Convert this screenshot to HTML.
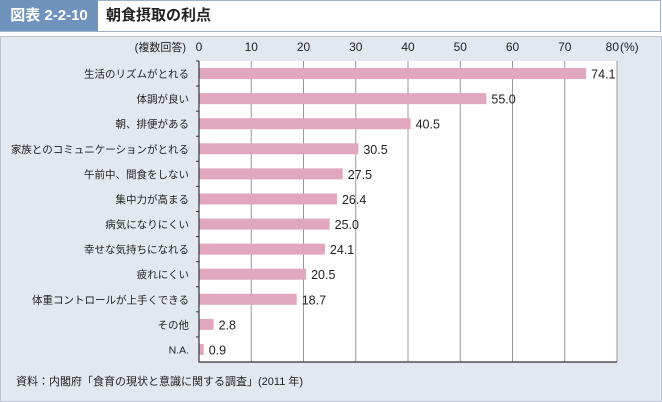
<!DOCTYPE html>
<html><head><meta charset="utf-8"><style>
body{margin:0;width:662px;height:402px;background:#fff;font-family:"Liberation Sans","Noto Sans CJK JP",sans-serif;overflow:hidden;position:relative}
#hdr{position:absolute;left:0;top:0;width:660px;height:30px;border:1px solid #9fb3c8;border-left:none;background:#fff}
#badge{position:absolute;left:0;top:0;width:98px;height:31px;background:#6f93bd;color:#fff;font-size:15px;font-weight:bold;line-height:31px;text-align:center}
#title{position:absolute;left:106px;top:0;line-height:31px;font-size:15px;font-weight:bold;color:#222}
#panel{position:absolute;left:0;top:36px;width:660px;height:364px;background:#e2e8ef;border:1px solid #bfc8d2}
svg{position:absolute;left:0;top:0}
text{font-family:"Liberation Sans","Noto Sans CJK JP",sans-serif;fill:#222}
</style></head><body>
<div id="hdr"></div>
<div id="badge">図表 2-2-10</div>
<div id="title">朝食摂取の利点</div>
<div id="panel"></div>
<svg id="chart" width="662" height="402"></svg>
<script>
const categories=["生活のリズムがとれる","体調が良い","朝、排便がある","家族とのコミュニケーションがとれる","午前中、間食をしない","集中力が高まる","病気になりにくい","幸せな気持ちになれる","疲れにくい","体重コントロールが上手くできる","その他","N.A."];
const values=[74.1,55.0,40.5,30.5,27.5,26.4,25.0,24.1,20.5,18.7,2.8,0.9];
const ticks=[0,10,20,30,40,50,60,70,80];
const NS="http://www.w3.org/2000/svg";
const svg=document.getElementById('chart');
const x0=199,x1=617,yTop=61,yBot=362,max=80;
const x=v=>x0+(x1-x0)*v/max;
const bandH=(yBot-yTop)/categories.length;
const y=i=>yTop+bandH*(i+0.5);
function el(tag,attrs,txt){const e=document.createElementNS(NS,tag);for(const k in attrs)e.setAttribute(k,attrs[k]);if(txt!==undefined)e.textContent=txt;svg.appendChild(e);return e;}
const bg=el('rect',{x:x0,y:yTop,width:x1-x0,height:yBot-yTop,fill:'#fff'});


ticks.forEach(t=>{
 if(t>0){const g=el('line',{x1:x(t),x2:x(t),y1:yTop,y2:yBot,stroke:'#999','stroke-width':1});
 
 }
 const lb=el('text',{x:x(t),y:51,'font-size':12,'text-anchor':t===80?'end':'middle'},String(t));
 if(t===80)lb.setAttribute('x',x(t)+2);
 
 
});
const pct=el('text',{x:x(80)+3,y:51,'font-size':12},'(%)');


const note=el('text',{x:186,y:51,'font-size':11,'text-anchor':'end'},'(複数回答)');


categories.forEach((c,i)=>{
 const r=el('rect',{x:x0,y:y(i)-5.5,width:x(values[i])-x0,height:11,fill:'#e0a7bf'});
 
 
 const v=el('text',{x:x(values[i])+5,y:y(i)+5,'font-size':12.5},values[i].toFixed(1));
 
 
 const l=el('text',{x:189,y:y(i)+4,'font-size':10.5,'text-anchor':'end'},c);
 
 
 const tk=el('line',{x1:x0-3,x2:x0,y1:yTop+bandH*i,y2:yTop+bandH*i,stroke:'#333'});
 
 
});
const ax=el('path',{d:`M${x0},${yTop}V${yBot}H${x1}`,stroke:'#333',fill:'none','stroke-width':1.2});


const src=el('text',{x:16,y:385,'font-size':11},'資料：内閣府「食育の現状と意識に関する調査」(2011 年)');


</script>
</body></html>
